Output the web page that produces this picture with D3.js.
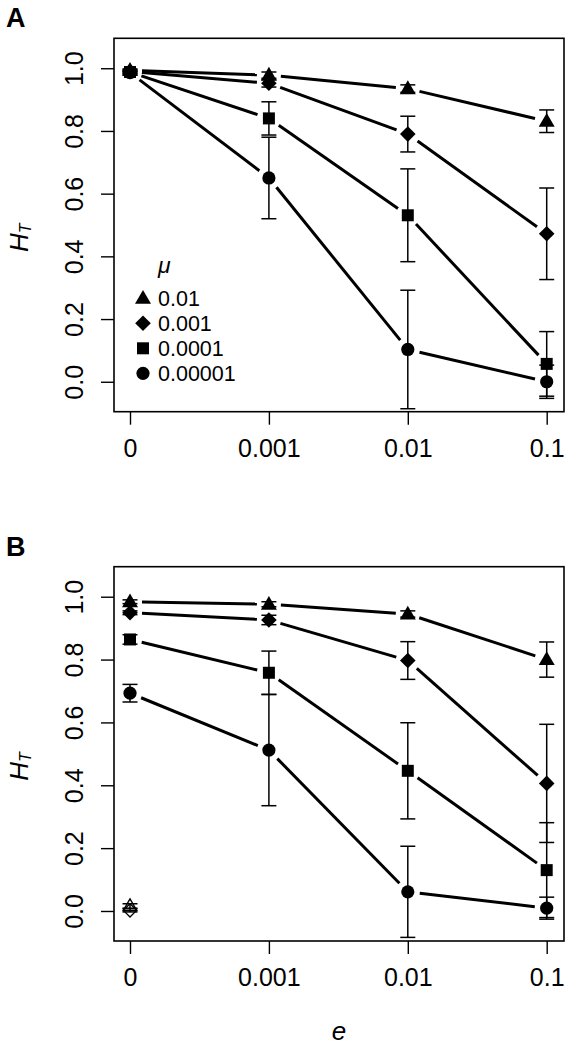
<!DOCTYPE html>
<html>
<head>
<meta charset="utf-8">
<script src="https://cdn.jsdelivr.net/npm/d3@7"></script>
<style>
  html, body { margin: 0; padding: 0; background: #fff; }
  svg { display: block; }
  text { font-family: "Liberation Sans", Arial, Helvetica, sans-serif; fill: #000; }
</style>
</head>
<body>
<svg id="chart" width="570" height="1047"></svg>
<script>
// ---------- data ----------
const categories = ["0", "0.001", "0.01", "0.1"];
const muLabels = ["0.01", "0.001", "0.0001", "0.00001"];
const yTicks = [0.0, 0.2, 0.4, 0.6, 0.8, 1.0];

// Panel A means / error half-widths (mu = 0.01, 0.001, 0.0001, 0.00001)
const A_mu1e2 = [0.993, 0.978, 0.935, 0.831];
const A_mu1e2_err = [0.005, 0.010, 0.012, 0.036];
const A_mu1e3 = [0.990, 0.952, 0.790, 0.472];
const A_mu1e3_err = [0.005, 0.012, 0.057, 0.146];
const A_mu1e4 = [0.988, 0.840, 0.531, 0.057];
const A_mu1e4_err = [0.005, 0.053, 0.148, 0.103];
const A_mu1e5 = [0.986, 0.650, 0.103, 0.000];
const A_mu1e5_err = [0.005, 0.130, 0.189, 0.053];

// Panel B
const B_mu1e2 = [0.984, 0.976, 0.945, 0.800];
const B_mu1e2_err = [0.006, 0.008, 0.010, 0.056];
const B_mu1e3 = [0.949, 0.926, 0.797, 0.406];
const B_mu1e3_err = [0.006, 0.015, 0.060, 0.188];
const B_mu1e4 = [0.864, 0.758, 0.446, 0.130];
const B_mu1e4_err = [0.015, 0.069, 0.153, 0.151];
const B_mu1e5 = [0.693, 0.512, 0.061, 0.009];
const B_mu1e5_err = [0.028, 0.177, 0.145, 0.035];

// Panel B open symbols at e = 0
const B_open_tri = [0.016];
const B_open_tri_err = [0.007];
const B_open_dia = [0.002];
const B_open_dia_err = [0.005];

const shapes = ["triangle", "diamond", "square", "circle"];

// ---------- layout ----------
const svg = d3.select("#chart");
const boxL = 114, boxR = 564;
const panels = [
  { label: "A", top: 38.3, bottom: 411.7,
    series: [[A_mu1e2, A_mu1e2_err], [A_mu1e3, A_mu1e3_err], [A_mu1e4, A_mu1e4_err], [A_mu1e5, A_mu1e5_err]],
    legend: true, xlab: false, open: false },
  { label: "B", top: 566.7, bottom: 941,
    series: [[B_mu1e2, B_mu1e2_err], [B_mu1e3, B_mu1e3_err], [B_mu1e4, B_mu1e4_err], [B_mu1e5, B_mu1e5_err]],
    legend: false, xlab: true, open: true }
];

function symbolPath(shape) {
  switch (shape) {
    case "triangle": {
      const s = 16, h = s * Math.sqrt(3) / 2;
      return `M0,${-h * 0.6}L${s / 2},${h * 0.4}L${-s / 2},${h * 0.4}Z`;
    }
    case "diamond": {
      const r = 7.8;
      return `M0,${-r}L${r},0L0,${r}L${-r},0Z`;
    }
    case "square": {
      const r = 6;
      return `M${-r},${-r}H${r}V${r}H${-r}Z`;
    }
    default: {
      const r = 6.6;
      return `M${r},0A${r},${r} 0 1,1 ${-r},0A${r},${r} 0 1,1 ${r},0Z`;
    }
  }
}

panels.forEach(p => {
  const x = d3.scalePoint().domain(categories).range([130, 546.7]);
  const y = d3.scaleLinear().domain([-0.0955, 1.0955]).range([p.bottom, p.top]);
  const g = svg.append("g");

  // y axis
  const ya = g.append("g").attr("transform", `translate(${boxL},0)`)
    .call(d3.axisLeft(y).tickValues(yTicks).tickFormat(d3.format(".1f")).tickSize(13).tickSizeOuter(0));
  ya.select(".domain").remove();
  ya.selectAll(".tick line").attr("stroke", "#000").attr("stroke-width", 1.4);
  ya.selectAll(".tick text")
    .attr("transform", "rotate(-90)")
    .attr("x", 0).attr("y", -31).attr("dy", 0)
    .attr("text-anchor", "middle")
    .style("font-size", "25px")
    .style("font-family", "'Liberation Sans', Arial, sans-serif")
    .attr("fill", "#000");

  // x axis
  const xa = g.append("g").attr("transform", `translate(0,${p.bottom})`)
    .call(d3.axisBottom(x).tickSize(13).tickSizeOuter(0));
  xa.select(".domain").remove();
  xa.selectAll(".tick line").attr("stroke", "#000").attr("stroke-width", 1.4);
  xa.selectAll(".tick text")
    .attr("y", 45).attr("dy", 0)
    .style("font-size", "25px")
    .style("font-family", "'Liberation Sans', Arial, sans-serif")
    .attr("fill", "#000");

  // box
  g.append("rect")
    .attr("x", boxL).attr("y", p.top)
    .attr("width", boxR - boxL).attr("height", p.bottom - p.top)
    .attr("fill", "none").attr("stroke", "#000").attr("stroke-width", 1.6);

  // panel label
  g.append("text")
    .attr("x", 6).attr("y", p.top - 11)
    .style("font-size", "27px").style("font-weight", "bold")
    .text(p.label);

  // y label H_T
  const cy = (p.top + p.bottom) / 2 + 27;
  const yl = g.append("text")
    .attr("transform", `translate(28,${cy}) rotate(-90)`)
    .attr("text-anchor", "start")
    .style("font-size", "26px");
  yl.append("tspan").style("font-style", "italic").text("H");
  yl.append("tspan").style("font-size", "16px").style("font-style", "italic").attr("dy", 3).text("T");

  // error bars
  p.series.forEach(([vals, errs]) => {
    vals.forEach((v, i) => {
      const cx = x(categories[i]);
      const y0 = y(v - errs[i]), y1 = y(v + errs[i]);
      g.append("line").attr("x1", cx).attr("x2", cx).attr("y1", y0).attr("y2", y1)
        .attr("stroke", "#000").attr("stroke-width", 1.5);
      [y0, y1].forEach(yy => g.append("line")
        .attr("x1", cx - 7.5).attr("x2", cx + 7.5).attr("y1", yy).attr("y2", yy)
        .attr("stroke", "#000").attr("stroke-width", 1.5));
    });
  });

  // lines with gaps (type "b")
  const gap = 12;
  p.series.forEach(([vals]) => {
    for (let i = 0; i < vals.length - 1; i++) {
      const ax = x(categories[i]), ay = y(vals[i]);
      const bx = x(categories[i + 1]), by = y(vals[i + 1]);
      const dx = bx - ax, dy = by - ay, len = Math.hypot(dx, dy);
      if (len <= 2 * gap) continue;
      const ux = dx / len, uy = dy / len;
      g.append("line")
        .attr("x1", ax + ux * gap).attr("y1", ay + uy * gap)
        .attr("x2", bx - ux * gap).attr("y2", by - uy * gap)
        .attr("stroke", "#000").attr("stroke-width", 3);
    }
  });

  // markers
  p.series.forEach(([vals], si) => {
    vals.forEach((v, i) => {
      g.append("path")
        .attr("transform", `translate(${x(categories[i])},${y(v)})`)
        .attr("d", symbolPath(shapes[si]))
        .attr("fill", "#000");
    });
  });

  // open symbols
  if (p.open) {
    [[B_open_tri, B_open_tri_err, "triangle"], [B_open_dia, B_open_dia_err, "diamond"]].forEach(([vals, errs, shp]) => {
      vals.forEach((v, i) => {
        const cx = x(categories[i]);
        const y0 = y(v - errs[i]), y1 = y(v + errs[i]);
        g.append("line").attr("x1", cx).attr("x2", cx).attr("y1", y0).attr("y2", y1)
          .attr("stroke", "#000").attr("stroke-width", 1.5);
        [y0, y1].forEach(yy => g.append("line")
          .attr("x1", cx - 7.5).attr("x2", cx + 7.5).attr("y1", yy).attr("y2", yy)
          .attr("stroke", "#000").attr("stroke-width", 1.5));
        g.append("path")
          .attr("transform", `translate(${cx},${y(v)}) scale(0.85)`)
          .attr("d", symbolPath(shp))
          .attr("fill", "none").attr("stroke", "#000").attr("stroke-width", 1.6);
      });
    });
  }

  // legend
  if (p.legend) {
    const lx = 143, ly0 = p.top + 260, step = 25;
    g.append("text").attr("x", 158).attr("y", ly0 - 25)
      .style("font-size", "23px").style("font-style", "italic").text("μ");
    muLabels.forEach((lab, i) => {
      const yy = ly0 + i * step;
      g.append("path").attr("transform", `translate(${lx},${yy})`)
        .attr("d", symbolPath(shapes[i])).attr("fill", "#000");
      g.append("text").attr("x", 158).attr("y", yy).attr("dy", "0.36em")
        .style("font-size", "21.5px").text(lab);
    });
  }

  // x label
  if (p.xlab) {
    g.append("text").attr("x", (boxL + boxR) / 2).attr("y", 1040)
      .attr("text-anchor", "middle")
      .style("font-size", "26px").style("font-style", "italic").text("e");
  }
});
</script>
</body>
</html>
